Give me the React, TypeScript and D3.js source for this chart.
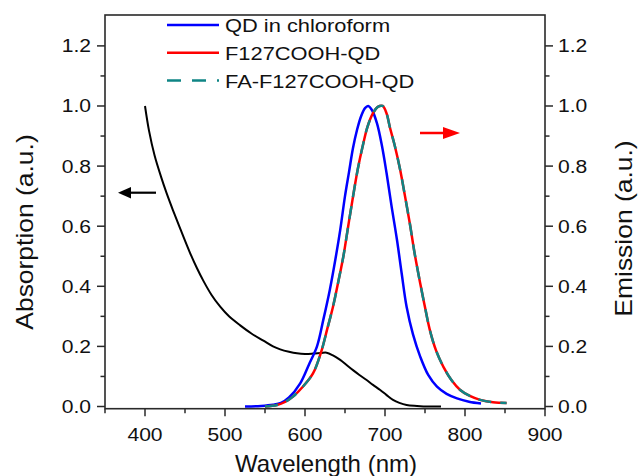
import React from "react";
import * as d3 from "d3";

const absWl = [400, 405, 412, 420, 427, 435, 444, 456, 465, 473, 483, 494, 505, 519, 533, 548, 560, 569, 580, 590, 600, 610, 620, 627, 635, 644, 652, 660, 668, 677, 685, 694, 702, 710, 718, 727, 740, 755, 770];
const absVal = [1.0, 0.918, 0.835, 0.765, 0.71, 0.653, 0.592, 0.513, 0.46, 0.418, 0.372, 0.332, 0.3, 0.27, 0.243, 0.219, 0.2, 0.19, 0.182, 0.177, 0.175, 0.176, 0.178, 0.179, 0.17, 0.155, 0.138, 0.121, 0.105, 0.088, 0.072, 0.055, 0.038, 0.022, 0.012, 0.005, 0.002, 0.0, 0.0];

const blueWl = [525, 545, 560, 570, 580, 594, 605, 615, 623, 631, 638, 644, 650, 655, 660, 665, 670, 675, 679, 684, 690, 696, 702, 708, 715, 721, 727, 735, 744, 754, 765, 777, 790, 805, 820];
const blueVal = [0, 0.002, 0.006, 0.012, 0.03, 0.077, 0.14, 0.2, 0.29, 0.388, 0.49, 0.587, 0.7, 0.78, 0.86, 0.92, 0.965, 0.993, 1.0, 0.985, 0.942, 0.87, 0.776, 0.67, 0.554, 0.44, 0.332, 0.24, 0.166, 0.105, 0.066, 0.042, 0.027, 0.016, 0.01];

const redWl = [550, 565, 575, 585, 597, 610, 620, 628, 635, 642, 648, 654, 660, 666, 672, 678, 685, 691, 697, 702, 706, 712, 719, 725, 731, 737, 744, 750, 756, 764, 773, 783, 794, 806, 819, 835, 852];
const redVal = [0, 0.005, 0.015, 0.033, 0.065, 0.11, 0.18, 0.26, 0.332, 0.42, 0.5, 0.6, 0.698, 0.79, 0.865, 0.93, 0.976, 0.997, 1.0, 0.975, 0.93, 0.87, 0.787, 0.7, 0.61, 0.51, 0.41, 0.33, 0.255, 0.185, 0.132, 0.088, 0.055, 0.035, 0.022, 0.014, 0.012];

const tealWl = [550, 565, 575, 585, 597, 610, 620, 628, 635, 642, 648, 654, 660, 666, 672, 678, 685, 691, 697, 702, 706, 712, 719, 725, 731, 737, 744, 750, 756, 764, 773, 783, 794, 806, 819, 835, 852];
const tealVal = [0, 0.005, 0.015, 0.033, 0.065, 0.11, 0.18, 0.26, 0.332, 0.42, 0.5, 0.6, 0.698, 0.79, 0.865, 0.93, 0.976, 0.997, 1.0, 0.975, 0.93, 0.87, 0.787, 0.7, 0.61, 0.51, 0.41, 0.33, 0.255, 0.185, 0.132, 0.088, 0.055, 0.035, 0.022, 0.014, 0.012];

const xTicks = [400, 500, 600, 700, 800, 900];
const xMinor = [350, 450, 550, 650, 750, 850];
const yTicks = [0, 0.2, 0.4, 0.6, 0.8, 1.0, 1.2];
const yMinor = [0.1, 0.3, 0.5, 0.7, 0.9, 1.1];

const legendLabels = ["QD in chloroform", "F127COOH-QD", "FA-F127COOH-QD"];

const FONT = "'Liberation Sans', Arial, sans-serif";
const AXIS = "#2a2a2a";

export default function App() {
  const L = 105, R = 545, T = 15, B = 408.7;
  const x = d3.scaleLinear().domain([350, 900]).range([L, R]);
  const y = d3.scaleLinear().domain([-0.0073, 1.3028]).range([B, T]);
  const line = (wl: number[], v: number[]) =>
    d3.line<number>().x((_, i) => x(wl[i])).y((d) => y(d)).curve(d3.curveCatmullRom.alpha(0.5))(v) || "";

  const tickSX = 1.14;
  const tickFs = 18.5;

  return (
    <svg width={638} height={476} style={{ display: "block", position: "absolute", left: 0, top: 0 }}>
      <rect width={638} height={476} fill="#fff" />
      {/* curves */}
      <path d={line(absWl, absVal)} fill="none" stroke="#000" strokeWidth={2} />
      <path d={line(blueWl, blueVal)} fill="none" stroke="#0000ff" strokeWidth={2.5} />
      <path d={line(redWl, redVal)} fill="none" stroke="#ff0000" strokeWidth={2.5} />
      <path d={line(tealWl, tealVal)} fill="none" stroke="#0f8585" strokeWidth={2.5} strokeDasharray="13,9" />

      {/* frame */}
      <rect x={L} y={T} width={R - L} height={B - T} fill="none" stroke={AXIS} strokeWidth={1.6} />

      {/* x ticks */}
      {xTicks.map((t) => (
        <g key={"xt" + t}>
          <line x1={x(t)} x2={x(t)} y1={B} y2={B + 7.5} stroke={AXIS} strokeWidth={1.5} />
          <text transform={`translate(${x(t)},${441}) scale(${tickSX},1)`} textAnchor="middle" fontFamily={FONT} fontSize={tickFs} fill="#111">{t}</text>
        </g>
      ))}
      {xMinor.map((t) => (
        <line key={"xm" + t} x1={x(t)} x2={x(t)} y1={B} y2={B + 4.5} stroke={AXIS} strokeWidth={1.5} />
      ))}

      {/* y ticks left & right */}
      {yTicks.map((t) => (
        <g key={"yt" + t}>
          <line x1={L - 8} x2={L} y1={y(t)} y2={y(t)} stroke={AXIS} strokeWidth={1.5} />
          <line x1={R} x2={R + 8} y1={y(t)} y2={y(t)} stroke={AXIS} strokeWidth={1.5} />
          <text transform={`translate(${91},${y(t) + 6.5}) scale(${tickSX},1)`} textAnchor="end" fontFamily={FONT} fontSize={tickFs} fill="#111">{t.toFixed(1)}</text>
          <text transform={`translate(${558},${y(t) + 6.5}) scale(${tickSX},1)`} textAnchor="start" fontFamily={FONT} fontSize={tickFs} fill="#111">{t.toFixed(1)}</text>
        </g>
      ))}
      {yMinor.map((t) => (
        <g key={"ym" + t}>
          <line x1={L - 4.5} x2={L} y1={y(t)} y2={y(t)} stroke={AXIS} strokeWidth={1.5} />
          <line x1={R} x2={R + 4.5} y1={y(t)} y2={y(t)} stroke={AXIS} strokeWidth={1.5} />
        </g>
      ))}

      {/* axis titles */}
      <text transform="translate(326,472) scale(1.045,1)" textAnchor="middle" fontFamily={FONT} fontSize={23} fill="#111">Wavelength (nm)</text>
      <text transform="translate(32.5,232) rotate(-90) scale(1.15,1)" textAnchor="middle" fontFamily={FONT} fontSize={23} fill="#111">Absorption (a.u.)</text>
      <text transform="translate(632,228.5) rotate(-90) scale(1.15,1)" textAnchor="middle" fontFamily={FONT} fontSize={23} fill="#111">Emission (a.u.)</text>

      {/* legend */}
      {legendLabels.map((lab, i) => {
        const ly = [25, 52.7, 80.5][i];
        const col = ["#0000ff", "#ff0000", "#0f8585"][i];
        return (
          <g key={lab}>
            <line x1={167} x2={219} y1={ly} y2={ly} stroke={col} strokeWidth={2.5} strokeDasharray={i === 2 ? "14,11" : undefined} />
            <text transform={`translate(225,${ly + 7}) scale(1.15,1)`} fontFamily={FONT} fontSize={19} fill="#111">{lab}</text>
          </g>
        );
      })}

      {/* arrows */}
      <line x1={156} x2={128} y1={192.7} y2={192.7} stroke="#000" strokeWidth={2.2} />
      <path d="M118,192.7 L131,187 L131,198.4 Z" fill="#000" />
      <line x1={420} x2={448} y1={133} y2={133} stroke="#ff0000" strokeWidth={2.5} />
      <path d="M460,133 L443,127 L443,139 Z" fill="#ff0000" />
    </svg>
  );
}
